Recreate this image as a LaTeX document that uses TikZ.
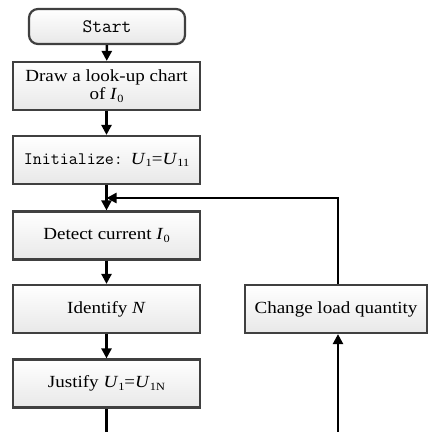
\documentclass[tikz,border=0pt]{standalone}
\usepackage{fontspec}
\setmainfont{Liberation Serif}[FakeStretch=1.12]
\usetikzlibrary{arrows.meta,shadows}
\newcommand{\mysub}[1]{\raisebox{-2.5pt}{\fontsize{11}{11}\selectfont #1}}
\definecolor{boxline}{HTML}{404040}
\tikzset{
  procbox/.style={draw=boxline, line width=2.2pt, top color=white, bottom color=gray!18,
    minimum width=187pt, minimum height=48pt, align=center, inner sep=2pt,
    font=\fontsize{17}{19}\selectfont},
  startbox/.style={procbox, rounded corners=9pt, minimum width=156pt, minimum height=35pt,
    font=\ttfamily\fontsize{19}{20}\selectfont},
  flow/.style={line width=2.4pt, -{Triangle[length=10pt,width=10pt]}},
  plain/.style={line width=2.4pt}
}
\begin{document}
\begin{tikzpicture}[x=1pt,y=1pt]
\useasboundingbox (0,0) rectangle (428,-432);
\node[startbox] (start) at (107,-26.5) {Start};
\node[procbox, font=\fontsize{17}{18}\selectfont] (draw) at (106.5,-86) {Draw a look-up chart\\of \textit{I}\mysub{0}};
\node[procbox] (init) at (106.5,-160) {{\ttfamily\fontsize{17.5}{18}\selectfont Initialize:\,}\hspace{5pt}\textit{U}\mysub{1}=\textit{U}\mysub{11}};
\node[procbox] (detect) at (106.5,-235.5) {Detect current \textit{I}\mysub{0}};
\node[procbox] (ident) at (106.5,-309) {Identify \textit{N}};
\node[procbox] (just) at (106.5,-383.5) {Justify \textit{U}\mysub{1}=\textit{U}\mysub{1N}};
\node[procbox, minimum width=182pt] (change) at (336,-309) {Change load quantity};
\coordinate (join) at (106.5,-198);
\coordinate (corner) at (338,-198);
\coordinate (bottomL) at (106.5,-432);
\coordinate (bottomR) at (338,-432);
\draw[flow] (start) -- (draw);
\draw[flow] (draw) -- (init);
\draw[flow] (init) -- (detect);
\draw[flow] (detect) -- (ident);
\draw[flow] (ident) -- (just);
\draw[plain] (just) -- (bottomL);
\draw[flow] (bottomR) -- (bottomR |- change.south);
\draw[flow] (corner |- change.north) -- (corner) -- (join);
\end{tikzpicture}
\end{document}
